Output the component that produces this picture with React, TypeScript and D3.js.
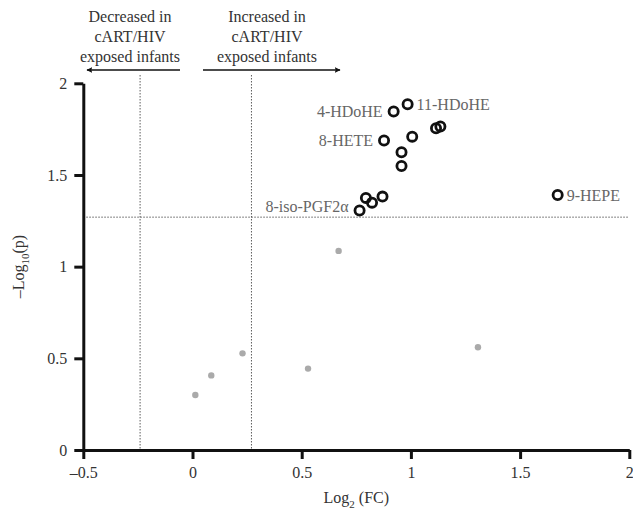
import { useRef, useEffect } from "react";
import * as d3 from "d3";

// significant metabolites (open circles)
const sigX = [0.921, 0.985, 1.115, 1.135, 0.877, 1.006, 0.957, 0.957, 0.794, 0.822, 0.87, 0.765, 1.672];
const sigY = [1.846, 1.886, 1.755, 1.764, 1.688, 1.709, 1.624, 1.549, 1.375, 1.349, 1.382, 1.306, 1.391];

// non significant (grey dots)
const nsX = [0.013, 0.086, 0.229, 0.529, 0.669, 1.307];
const nsY = [0.3, 0.407, 0.527, 0.444, 1.086, 0.56];

const pointLabels = [
  { name: "4-HDoHE", idx: 0, side: "left" },
  { name: "11-HDoHE", idx: 1, side: "right" },
  { name: "8-HETE", idx: 4, side: "left" },
  { name: "8-iso-PGF2α", idx: 11, side: "left" },
  { name: "9-HEPE", idx: 12, side: "right" },
];

const xTicks = [-0.5, 0, 0.5, 1, 1.5, 2];
const yTicks = [0, 0.5, 1, 1.5, 2];
const fcCutoffs = [-0.24, 0.27];
const pCutoff = 1.27;

const FONT = "'Liberation Serif', 'DejaVu Serif', serif";

export default function App() {
  const svgRef = useRef<SVGSVGElement>(null);

  useEffect(() => {
    const svg = d3.select(svgRef.current);
    svg.selectAll("*").remove();

    const width = 633;
    const height = 519;
    const x = d3.scaleLinear().domain([-0.5, 2]).range([83.3, 629.3]);
    const y = d3.scaleLinear().domain([0, 2]).range([450, 83.3]);

    svg.attr("width", width).attr("height", height).style("font-family", FONT);

    const fmt = (d: number) => (d < 0 ? "\u2013" + Math.abs(d) : String(d));

    // cutoff lines
    svg
      .selectAll("line.vcut")
      .data(fcCutoffs)
      .join("line")
      .attr("class", "vcut")
      .attr("x1", (d) => x(d))
      .attr("x2", (d) => x(d))
      .attr("y1", 75)
      .attr("y2", y(0))
      .attr("stroke", "#333")
      .attr("stroke-width", 0.8)
      .attr("stroke-dasharray", "1.5,1.5");

    svg
      .append("line")
      .attr("x1", x(-0.5))
      .attr("x2", x(2))
      .attr("y1", y(pCutoff))
      .attr("y2", y(pCutoff))
      .attr("stroke", "#333")
      .attr("stroke-width", 0.8)
      .attr("stroke-dasharray", "1.5,1.5");

    // axes
    const xAxis = svg
      .append("g")
      .attr("transform", `translate(0,${y(0)})`)
      .call(d3.axisBottom(x).tickValues(xTicks).tickSize(9).tickSizeOuter(0).tickFormat((d) => fmt(+d)).tickPadding(8));
    const yAxis = svg
      .append("g")
      .attr("transform", `translate(${x(-0.5)},0)`)
      .call(d3.axisLeft(y).tickValues(yTicks).tickSize(9).tickSizeOuter(0).tickFormat((d) => fmt(+d)).tickPadding(7));

    [xAxis, yAxis].forEach((g) => {
      g.select(".domain").attr("stroke", "#111").attr("stroke-width", 3);
      g.selectAll(".tick line").attr("stroke", "#111").attr("stroke-width", 3);
      g.selectAll(".tick text")
        .attr("fill", "#333")
        .style("font-family", FONT)
        .style("font-size", "16px");
    });
    yAxis.selectAll(".tick text").attr("dy", "0.33em");

    // grey dots
    svg
      .selectAll("circle.ns")
      .data(nsX.map((v, i) => [v, nsY[i]]))
      .join("circle")
      .attr("class", "ns")
      .attr("cx", (d) => x(d[0]))
      .attr("cy", (d) => y(d[1]))
      .attr("r", 3.2)
      .attr("fill", "#aaaaaa");

    // open circles
    svg
      .selectAll("circle.sig")
      .data(sigX.map((v, i) => [v, sigY[i]]))
      .join("circle")
      .attr("class", "sig")
      .attr("cx", (d) => x(d[0]))
      .attr("cy", (d) => y(d[1]))
      .attr("r", 4.6)
      .attr("fill", "none")
      .attr("stroke", "#111")
      .attr("stroke-width", 2.8);

    // point labels
    svg
      .selectAll("text.plabel")
      .data(pointLabels)
      .join("text")
      .attr("class", "plabel")
      .attr("x", (d) => x(sigX[d.idx]) + (d.side === "left" ? -11 : 9))
      .attr("y", (d) => y(sigY[d.idx]) + (d.name === "8-iso-PGF2α" ? -4 : 0))
      .attr("dy", "0.35em")
      .attr("text-anchor", (d) => (d.side === "left" ? "end" : "start"))
      .attr("fill", "#666")
      .style("font-size", "16px")
      .text((d) => d.name);

    // top annotations
    const notes = [
      { cx: 130, lines: ["Decreased in", "cART/HIV", "exposed infants"], x1: 180, x2: 87 },
      { cx: 267, lines: ["Increased in", "cART/HIV", "exposed infants"], x1: 203, x2: 340 },
    ];
    svg
      .append("defs")
      .append("marker")
      .attr("id", "arrowhead")
      .attr("viewBox", "0 0 10 10")
      .attr("refX", 9)
      .attr("refY", 5)
      .attr("markerWidth", 6)
      .attr("markerHeight", 6)
      .attr("markerUnits", "userSpaceOnUse")
      .attr("orient", "auto")
      .append("path")
      .attr("d", "M0,0 L10,5 L0,10 L2,5 Z")
      .attr("fill", "#111");

    notes.forEach((n) => {
      const t = svg
        .append("text")
        .attr("text-anchor", "middle")
        .attr("fill", "#333")
        .style("font-size", "16px");
      n.lines.forEach((l, i) => {
        t.append("tspan").attr("x", n.cx).attr("y", 22 + i * 20).text(l);
      });
      svg
        .append("line")
        .attr("x1", n.x1)
        .attr("x2", n.x2)
        .attr("y1", 70)
        .attr("y2", 70)
        .attr("stroke", "#111")
        .attr("stroke-width", 1.6)
        .attr("marker-end", "url(#arrowhead)");
    });

    // axis titles
    const xt = svg
      .append("text")
      .attr("x", (x(-0.5) + x(2)) / 2)
      .attr("y", 503)
      .attr("text-anchor", "middle")
      .attr("fill", "#333")
      .style("font-size", "16px");
    xt.append("tspan").text("Log");
    xt.append("tspan").attr("dy", 5).style("font-size", "11px").text("2");
    xt.append("tspan").attr("dy", -5).text(" (FC)");

    const yt = svg
      .append("text")
      .attr("transform", `translate(24,${(y(0) + y(2)) / 2}) rotate(-90)`)
      .attr("text-anchor", "middle")
      .attr("fill", "#333")
      .style("font-size", "16px");
    yt.append("tspan").text("\u2013Log");
    yt.append("tspan").attr("dy", 5).style("font-size", "11px").text("10");
    yt.append("tspan").attr("dy", -5).text("(p)");
  }, []);

  return <svg ref={svgRef} style={{ position: "absolute", left: 0, top: 0, background: "#fff" }} />;
}
